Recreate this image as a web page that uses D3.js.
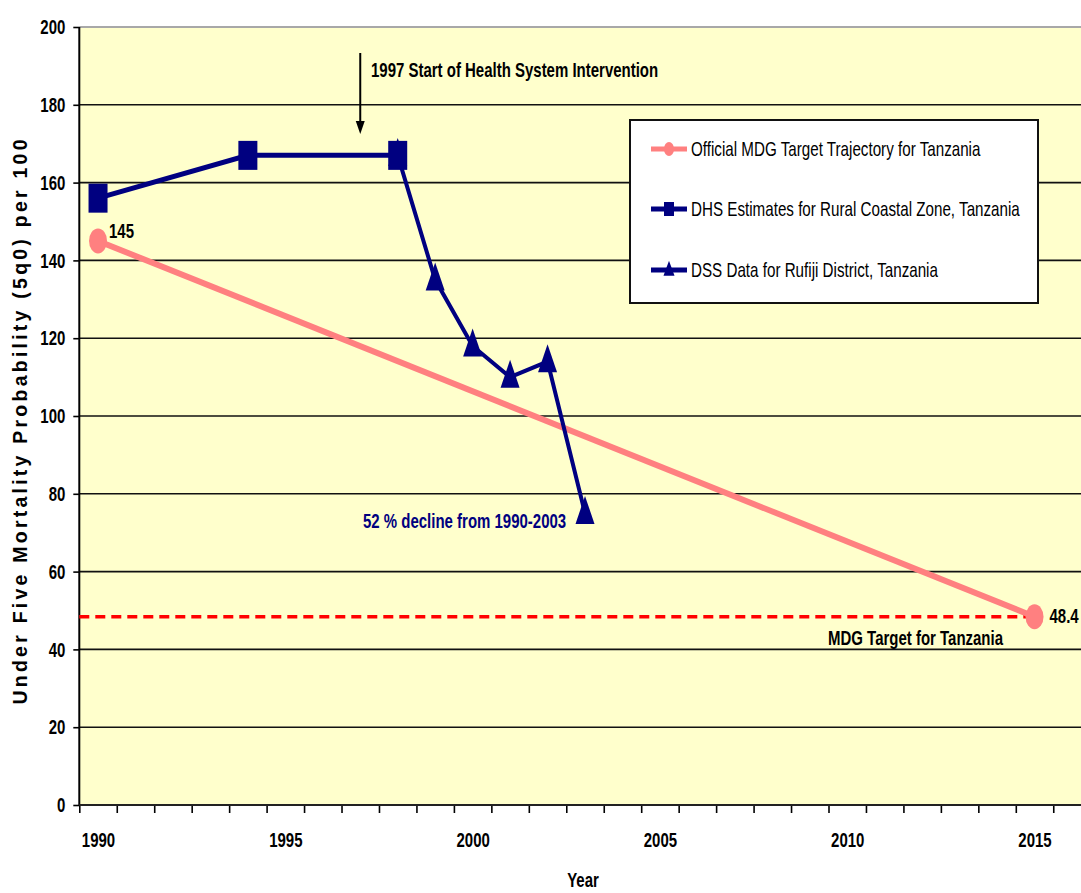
<!DOCTYPE html>
<html><head><meta charset="utf-8">
<script src="https://cdn.jsdelivr.net/npm/d3@7/dist/d3.min.js"></script>
<style>body{margin:0;background:#fff;} svg{display:block}</style>
</head><body>
<svg id="c" width="1081" height="893"></svg>
<script>
// ---------- data ----------
const categoryYears = d3.range(1990, 2017);
const labelYears = [1990, 1995, 2000, 2005, 2010, 2015];
const yTicks = [0, 20, 40, 60, 80, 100, 120, 140, 160, 180, 200];
const mdgYears = [1990, 2015];
const mdgValues = [145, 48.4];
const dhsYears = [1990, 1994, 1998];
const dhsValues = [156, 167, 167];
const dssYears = [1998, 1999, 2000, 2001, 2002, 2003];
const dssValues = [167, 135, 118, 110, 114, 75];
const mdgTargetValue = 48.4;
const interventionYear = 1997;
const legendLabels = [
  "Official MDG Target Trajectory for Tanzania",
  "DHS Estimates for Rural Coastal Zone, Tanzania",
  "DSS Data for Rufiji District, Tanzania"
];

// ---------- setup ----------
const svg = d3.select('#c');
const PINK = '#FF8080', NAVY = '#000080', YELLOW = '#FFFFCC';
const NARROW = "'Liberation Sans Narrow','Arial Narrow','DejaVu Sans Condensed',sans-serif";

function measure(font) {
  const t = svg.append('text').attr('font-family', font).attr('font-size', 100).text('Official MDG Target');
  const w = t.node().getComputedTextLength(); t.remove(); return w;
}
const narrowOK = measure("'Liberation Sans Narrow'") < 0.9 * measure("'Liberation Sans'");
const FAM = narrowOK ? NARROW : "'Liberation Sans',Arial,sans-serif";
const BASE_SX = narrowOK ? 1 : 0.82;
const BOLD_SIZE = 21, BOLD_SX = 0.87;

function ntext(parent, x, y, str, o = {}) {
  const sx = (o.sx || 1) * BASE_SX;
  const g = parent.append('g').attr('transform', `translate(${x},${y}) scale(${sx},1)`);
  return g.append('text').attr('font-family', FAM)
    .attr('font-size', o.size || 18).attr('font-weight', o.weight || 'normal')
    .attr('text-anchor', o.anchor || 'start').attr('fill', o.fill || '#000').text(str);
}
const boldOpts = (extra = {}) => Object.assign({ size: BOLD_SIZE, sx: BOLD_SX, weight: 'bold' }, extra);

const plotLeft = 79.3, plotTop = 27, plotBottom = 805, step = 37.46;
const x = d3.scaleLinear().domain([1989.5, 2016.5]).range([plotLeft, plotLeft + 27 * step]);
const y = d3.scaleLinear().domain([0, 200]).range([plotBottom, plotTop]);

// plot background
svg.append('rect').attr('x', plotLeft).attr('y', plotTop).attr('width', 1081 - plotLeft).attr('height', plotBottom - plotTop).attr('fill', YELLOW);
svg.append('line').attr('x1', plotLeft).attr('x2', 1081).attr('y1', plotTop).attr('y2', plotTop).attr('stroke', '#a8a8a8').attr('stroke-width', 2);

// gridlines
svg.append('g').selectAll('line').data(yTicks.filter(d => d > 0 && d < 200)).join('line')
  .attr('x1', plotLeft).attr('x2', 1081).attr('y1', d => y(d)).attr('y2', d => y(d))
  .attr('stroke', '#111').attr('stroke-width', 1.6);

// axes
const yAxis = svg.append('g').attr('transform', `translate(${plotLeft},0)`)
  .call(d3.axisLeft(y).tickValues(yTicks).tickSize(6).tickPadding(8));
yAxis.select('.domain').remove();
yAxis.selectAll('.tick line').attr('stroke', '#000').attr('stroke-width', 1.6);
yAxis.selectAll('text').attr('font-family', FAM).attr('font-size', BOLD_SIZE).attr('font-weight', 'bold').attr('fill', '#000')
  .each(function () { const t = d3.select(this); const xx = +t.attr('x'); t.attr('x', 0).attr('transform', `translate(${xx},0) scale(${BOLD_SX * BASE_SX},1)`); });
svg.append('line').attr('x1', plotLeft).attr('x2', plotLeft).attr('y1', plotTop).attr('y2', plotBottom).attr('stroke', '#000').attr('stroke-width', 2);

const xTicks = svg.append('g').attr('transform', `translate(0,${plotBottom})`)
  .call(d3.axisBottom(x).tickValues(d3.range(1989.5, 2017, 1)).tickSize(8).tickFormat(''));
xTicks.select('.domain').remove();
xTicks.selectAll('.tick line').attr('stroke', '#000').attr('stroke-width', 1.6);
const xLabels = svg.append('g').attr('transform', `translate(0,${plotBottom})`)
  .call(d3.axisBottom(x).tickValues(labelYears).tickSize(0).tickPadding(28).tickFormat(d3.format('d')));
xLabels.select('.domain').remove();
xLabels.selectAll('text').attr('font-family', FAM).attr('font-size', BOLD_SIZE).attr('font-weight', 'bold').attr('fill', '#000')
  .attr('dy', '0.69em')
  .each(function () { const t = d3.select(this); const yy = +t.attr('y'); t.attr('y', 0).attr('transform', `translate(0,${yy}) scale(${BOLD_SX * BASE_SX},1)`); });
svg.append('line').attr('x1', plotLeft).attr('x2', 1081).attr('y1', plotBottom).attr('y2', plotBottom).attr('stroke', '#222').attr('stroke-width', 2);

// axis titles
ntext(svg, 583, 887, 'Year', boldOpts({ anchor: 'middle' }));
svg.append('text').attr('transform', 'translate(27,422) rotate(-90)')
  .attr('font-family', "'Liberation Sans',Arial,sans-serif").attr('font-size', 19.5).attr('font-weight', 'bold')
  .attr('text-anchor', 'middle').attr('textLength', 565).attr('lengthAdjust', 'spacing')
  .text('Under Five Mortality Probability (5q0) per 100');

// MDG target dashed line
svg.append('line').attr('x1', plotLeft).attr('x2', x(2015)).attr('y1', y(mdgTargetValue)).attr('y2', y(mdgTargetValue))
  .attr('stroke', '#FF0000').attr('stroke-width', 3.5).attr('stroke-dasharray', '10,6');

// series
const line = d3.line().x(d => x(d[0])).y(d => y(d[1]));
const mdg = mdgYears.map((yr, i) => [yr, mdgValues[i]]);
const dhs = dhsYears.map((yr, i) => [yr, dhsValues[i]]);
const dss = dssYears.map((yr, i) => [yr, dssValues[i]]);

svg.append('path').datum(mdg).attr('d', line).attr('fill', 'none').attr('stroke', PINK).attr('stroke-width', 6);
svg.append('g').selectAll('ellipse').data(mdg).join('ellipse')
  .attr('cx', d => x(d[0])).attr('cy', d => y(d[1])).attr('rx', 9).attr('ry', 12.5).attr('fill', PINK);

svg.append('path').datum(dss).attr('d', line).attr('fill', 'none').attr('stroke', NAVY).attr('stroke-width', 4);
svg.append('path').datum(dhs).attr('d', line).attr('fill', 'none').attr('stroke', NAVY).attr('stroke-width', 5);

const tri = (cx, cy, w, h) => `M${cx},${cy - h * 0.62}L${cx + w / 2},${cy + h * 0.38}L${cx - w / 2},${cy + h * 0.38}Z`;
svg.append('g').selectAll('path').data(dss).join('path')
  .attr('d', d => tri(x(d[0]), y(d[1]), 19, 28)).attr('fill', NAVY);
svg.append('g').selectAll('rect').data(dhs).join('rect')
  .attr('x', d => x(d[0]) - 9.5).attr('y', d => y(d[1]) - 14.5).attr('width', 19).attr('height', 29).attr('fill', NAVY);

// annotations
ntext(svg, x(1990) + 11, y(mdgValues[0]) - 3, String(mdgValues[0]), boldOpts());
ntext(svg, x(2015) + 15, y(mdgValues[1]) + 6, String(mdgValues[1]), boldOpts());
ntext(svg, 828, 645, 'MDG Target for Tanzania', boldOpts());
ntext(svg, 363, 528, '52 % decline from 1990-2003', boldOpts({ fill: NAVY }));
ntext(svg, 371, 77, '1997 Start of Health System Intervention', boldOpts());
const ax = x(interventionYear);
svg.append('line').attr('x1', ax).attr('x2', ax).attr('y1', 53).attr('y2', 124).attr('stroke', '#000').attr('stroke-width', 2);
svg.append('path').attr('d', `M${ax - 4.5},121L${ax + 4.5},121L${ax},134Z`).attr('fill', '#000');

// legend
const lg = svg.append('g');
lg.append('rect').attr('x', 630).attr('y', 120).attr('width', 408).attr('height', 183)
  .attr('fill', '#fff').attr('stroke', '#111').attr('stroke-width', 2);
const legY = [149, 209, 270];
legendLabels.forEach((lab, i) => {
  const col = i === 0 ? PINK : NAVY;
  lg.append('line').attr('x1', 651).attr('x2', 687).attr('y1', legY[i]).attr('y2', legY[i]).attr('stroke', col).attr('stroke-width', 5);
  if (i === 0) lg.append('ellipse').attr('cx', 669).attr('cy', legY[i]).attr('rx', 5).attr('ry', 7).attr('fill', col);
  if (i === 1) lg.append('rect').attr('x', 664).attr('y', legY[i] - 7).attr('width', 10).attr('height', 14).attr('fill', col);
  if (i === 2) lg.append('path').attr('d', tri(669, legY[i], 11, 15)).attr('fill', col);
  ntext(lg, 691, legY[i] + 7, lab, { size: 19.5, sx: 0.95 });
});
</script>
</body></html>
